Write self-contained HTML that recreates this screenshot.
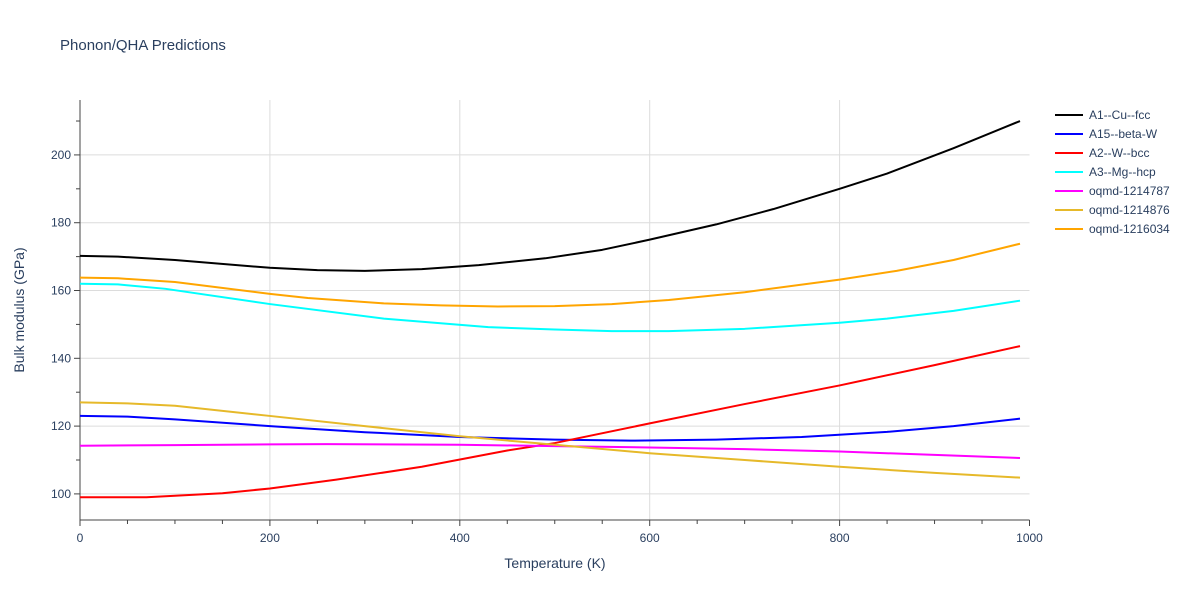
<!DOCTYPE html>
<html><head><meta charset="utf-8"><style>
body{margin:0;background:#fff;font-family:"Liberation Sans",sans-serif;}
svg text{font-family:"Liberation Sans",sans-serif;fill:#2a3f5f;}
</style></head><body>
<svg id="chart" width="1200" height="600">
<rect width="1200" height="600" fill="#fff"/>
<text x="60" y="50" font-size="15">Phonon/QHA Predictions</text>
<g id="grid"></g><g id="axes"></g><g id="series"></g><g id="legend"></g>
<text x="555" y="568" font-size="14" text-anchor="middle">Temperature (K)</text>
<text transform="translate(24,310) rotate(-90)" font-size="14" text-anchor="middle">Bulk modulus (GPa)</text>
</svg>
<script>
const xTicks=[0,200,400,600,800,1000];
const yTicks=[100,120,140,160,180,200];
const seriesNames=["A1--Cu--fcc","A15--beta-W","A2--W--bcc","A3--Mg--hcp","oqmd-1214787","oqmd-1214876","oqmd-1216034"];
const seriesColors=["#000000","#0000ff","#ff0000","#00ffff","#ff00ff","#e6b92a","#ffa500"];
const tA1=[0,40,100,200,250,300,360,420,490,550,600,670,730,800,850,920,990];
const vA1=[170.2,170,169,166.7,166,165.8,166.3,167.5,169.5,172,175,179.5,184,190,194.5,202,210];
const tA15=[0,50,100,200,300,400,500,580,670,760,850,920,990];
const vA15=[123,122.8,122,120,118.2,116.8,116,115.7,116,116.8,118.3,120,122.2];
const tA2=[0,70,150,200,270,360,450,500,600,700,800,900,990];
const vA2=[99,99,100.2,101.6,104.2,108,112.8,115,120.8,126.5,132,138,143.6];
const tA3=[0,40,90,200,320,430,500,560,620,700,800,850,920,990];
const vA3=[162,161.8,160.5,156,151.7,149.2,148.5,148,148,148.7,150.5,151.7,154,157];
const t787=[0,100,200,260,400,500,600,700,800,900,990];
const v787=[114.2,114.4,114.6,114.7,114.5,114.1,113.7,113.2,112.5,111.5,110.6];
const t876=[0,50,100,200,300,400,500,600,700,800,900,990];
const v876=[127,126.7,126,123,120,117,114.5,112,110,108,106.2,104.8];
const t034=[0,40,100,200,240,320,380,440,500,560,620,700,800,860,920,990];
const v034=[163.8,163.6,162.5,159,157.8,156.2,155.6,155.3,155.4,156,157.2,159.5,163.2,165.8,169,173.8];
const seriesT=[tA1,tA15,tA2,tA3,t787,t876,t034];
const seriesV=[vA1,vA15,vA2,vA3,v787,v876,v034];
const X0=80,X1=1029.5,Y0=520,Y1=100,xMin=0,xMax=1000,yMin=92.3,yMax=216.2;
const sx=v=>X0+(v-xMin)/(xMax-xMin)*(X1-X0);
const sy=v=>Y0-(v-yMin)/(yMax-yMin)*(Y0-Y1);
const NS="http://www.w3.org/2000/svg";
function mk(tag,attrs,parent){const e=document.createElementNS(NS,tag);for(const k in attrs)e.setAttribute(k,attrs[k]);document.getElementById(parent).appendChild(e);return e;}
xTicks.forEach(t=>{
 if(t>0&&t<1000){const g=mk('line',{x1:sx(t),x2:sx(t),y1:Y1,y2:Y0,stroke:'#dcdcdc'},'grid');
 
 }
 const l=mk('text',{x:sx(t),y:Y0+22,'font-size':12,'text-anchor':'middle'},'axes');l.textContent=t;
 
 
});
for(let t=0;t<=1000;t+=50){mk('line',{x1:sx(t),x2:sx(t),y1:Y0,y2:Y0+(t%200?4:6),stroke:'#444'},'axes');}
yTicks.forEach(t=>{
 const g=mk('line',{x1:X0,x2:X1,y1:sy(t),y2:sy(t),stroke:'#dcdcdc'},'grid');
 
 
 const l=mk('text',{x:X0-9,y:sy(t)+4,'font-size':12,'text-anchor':'end'},'axes');l.textContent=t;
 
 
});
for(let t=100;t<=210;t+=10){mk('line',{x1:X0,x2:X0-(t%20?4:6),y1:sy(t),y2:sy(t),stroke:'#444'},'axes');}
mk('line',{x1:X0,x2:X1,y1:Y0,y2:Y0,stroke:'#444'},'axes');
mk('line',{x1:X0,x2:X0,y1:Y1,y2:Y0,stroke:'#444'},'axes');
seriesNames.forEach((n,i)=>{
 const pts=seriesT[i].map((t,j)=>sx(t)+','+sy(seriesV[i][j])).join(' ');
 const p=mk('polyline',{points:pts,fill:'none',stroke:seriesColors[i],'stroke-width':2,'stroke-linejoin':'round'},'series');
 
 
 const y=115+i*19;
 const ll=mk('line',{x1:1055,x2:1083,y1:y,y2:y,stroke:seriesColors[i],'stroke-width':2},'legend');
 
 
 const lt=mk('text',{x:1089,y:y+4,'font-size':12},'legend');lt.textContent=n;
 
 
});
</script>
</body></html>
